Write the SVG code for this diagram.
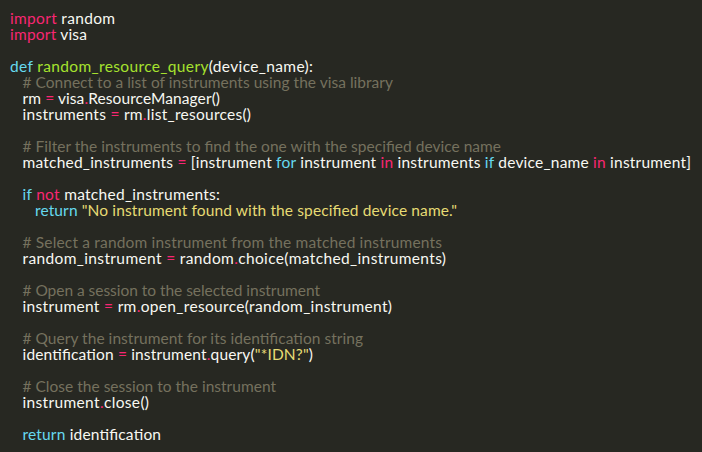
<svg xmlns="http://www.w3.org/2000/svg" width="702" height="452" viewBox="0 0 702 452">
<style>
text{font-family:Lato,"Open Sans","DejaVu Sans",sans-serif;font-size:15.5px;fill:#F8F8F2;white-space:pre}
.k{fill:#F92672}.b{fill:#66D9EF}.f{fill:#A6E22E}.c{fill:#75715E}.s{fill:#E6DB74}
</style>
<rect width="702" height="452" fill="#272822"/>
<g id="code">
<text x="10" y="24" textLength="105" lengthAdjust="spacing"><tspan class="k">import</tspan> random</text>
<text x="10" y="40" textLength="77" lengthAdjust="spacing"><tspan class="k">import</tspan> visa</text>
<text x="10" y="72" textLength="303" lengthAdjust="spacing"><tspan class="b">def</tspan> <tspan class="f">random_resource_query</tspan>(device_name):</text>
<text x="22.5" y="88" class="c" textLength="370.5" lengthAdjust="spacing"># Connect to a list of instruments using the visa library</text>
<text x="22.5" y="104" textLength="197.5" lengthAdjust="spacing">rm <tspan class="k">=</tspan> visa<tspan class="k">.</tspan>ResourceManager()</text>
<text x="22.5" y="120" textLength="228.5" lengthAdjust="spacing">instruments <tspan class="k">=</tspan> rm<tspan class="k">.</tspan>list_resources()</text>
<text x="22.5" y="152" class="c" textLength="478.5" lengthAdjust="spacing"># Filter the instruments to find the one with the specified device name</text>
<text x="22.5" y="168" textLength="668.5" lengthAdjust="spacing">matched_instruments <tspan class="k">=</tspan> [instrument <tspan class="b">for</tspan> instrument <tspan class="k">in</tspan> instruments <tspan class="b">if</tspan> device_name <tspan class="k">in</tspan> instrument]</text>
<text x="22.5" y="200" textLength="197.5" lengthAdjust="spacing"><tspan class="b">if</tspan> <tspan class="k">not</tspan> matched_instruments:</text>
<text x="35" y="216" textLength="422" lengthAdjust="spacing"><tspan class="b">return</tspan> <tspan class="s">"No instrument found with the specified device name."</tspan></text>
<text x="22.5" y="248" class="c" textLength="419.5" lengthAdjust="spacing"># Select a random instrument from the matched instruments</text>
<text x="22.5" y="264" textLength="423.5" lengthAdjust="spacing">random_instrument <tspan class="k">=</tspan> random<tspan class="k">.</tspan>choice(matched_instruments)</text>
<text x="22.5" y="296" class="c" textLength="297.5" lengthAdjust="spacing"># Open a session to the selected instrument</text>
<text x="22.5" y="312" textLength="369.5" lengthAdjust="spacing">instrument <tspan class="k">=</tspan> rm<tspan class="k">.</tspan>open_resource(random_instrument)</text>
<text x="22.5" y="344" class="c" textLength="340.5" lengthAdjust="spacing"># Query the instrument for its identification string</text>
<text x="22.5" y="360" textLength="290.5" lengthAdjust="spacing">identification <tspan class="k">=</tspan> instrument<tspan class="k">.</tspan>query(<tspan class="s">"*IDN?"</tspan>)</text>
<text x="22.5" y="392" class="c" textLength="253.5" lengthAdjust="spacing"># Close the session to the instrument</text>
<text x="22.5" y="408" textLength="126.5" lengthAdjust="spacing">instrument<tspan class="k">.</tspan>close()</text>
<text x="22.5" y="440" textLength="138.5" lengthAdjust="spacing"><tspan class="b">return</tspan> identification</text>
</g>
</svg>
